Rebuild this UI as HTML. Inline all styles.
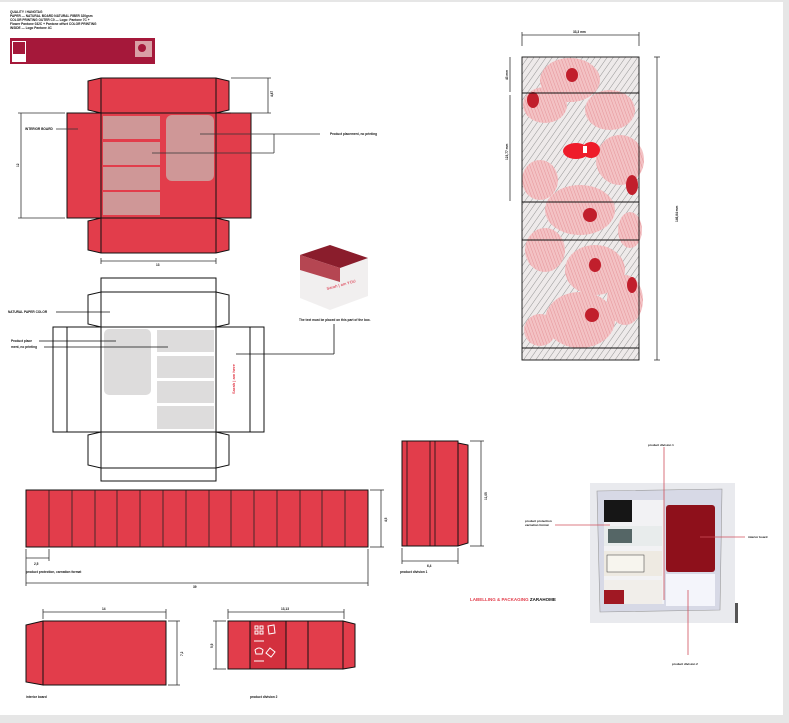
<!DOCTYPE html>
<html><head><meta charset="utf-8"><style>
html,body{margin:0;padding:0;background:#fff}
svg{display:block}
text{font-family:"Liberation Sans",sans-serif;font-weight:bold;fill:#111}
</style></head><body>
<svg width="789" height="723" viewBox="0 0 789 723" xmlns="http://www.w3.org/2000/svg">
<rect x="0" y="0" width="789" height="723" fill="#fff"/>
<rect x="783" y="0" width="6" height="723" fill="#e6e6e6"/>
<rect x="0" y="715" width="789" height="8" fill="#e6e6e6"/>
<rect x="0" y="0" width="789" height="2" fill="#e6e6e6"/>

<!-- header -->
<g font-size="3.2">
<text x="10" y="13">QUALITY / HANGTAG</text>
<text x="10" y="17">PAPER — NATURAL BOARD NATURAL FIBER 320gsm</text>
<text x="10" y="21">COLOR PRINTING OUTER C0 — Logo: Pantone 7C + </text>
<text x="10" y="25">Flower Pantone 032C + Pantone offset COLOR PRINTING</text>
<text x="10" y="29">INSIDE — Logo Pantone 4C</text>
</g>
<rect x="10" y="38" width="145" height="26" fill="#a5183a"/>
<rect x="12" y="41" width="14" height="21" fill="#fff"/>
<rect x="13" y="42" width="12" height="12" fill="#a5183a"/>
<rect x="135" y="41" width="17" height="16" fill="#d9a0a6"/>
<circle cx="142" cy="48" r="4" fill="#a5183a"/>

<!-- top red net -->
<g fill="#e23d4b" stroke="#111" stroke-width="1">
<path d="M88 81 L101 78 L216 78 L229 81 L229 110 L216 113 L101 113 L88 110 Z"/>
<rect x="67" y="113" width="184" height="105"/>
<path d="M88 221 L101 218 L216 218 L229 221 L229 250 L216 253 L101 253 L88 250 Z"/>
</g>
<g stroke="#111" stroke-width="1">
<line x1="101" y1="78" x2="101" y2="253"/><line x1="216" y1="78" x2="216" y2="253"/>
</g>
<g fill="#cf9797">
<rect x="103" y="116" width="57" height="23"/><rect x="103" y="142" width="57" height="23"/>
<rect x="103" y="167" width="57" height="23"/><rect x="103" y="192" width="57" height="23"/>
<rect x="166" y="115" width="48" height="66" rx="6"/>
</g>
<g stroke="#333" stroke-width="0.8" fill="none">
<line x1="231" y1="78" x2="271" y2="78"/><line x1="231" y1="113" x2="271" y2="113"/>
<line x1="268" y1="78" x2="268" y2="113"/>
<line x1="18" y1="113" x2="65" y2="113"/><line x1="18" y1="218" x2="65" y2="218"/>
<line x1="21" y1="113" x2="21" y2="218"/>
<line x1="101" y1="261" x2="216" y2="261"/><line x1="101" y1="258" x2="101" y2="264"/><line x1="216" y1="258" x2="216" y2="264"/>
<line x1="56" y1="129" x2="78" y2="129"/>
<line x1="200" y1="134" x2="320" y2="134"/>
<line x1="152" y1="153" x2="274" y2="153"/><line x1="274" y1="134" x2="274" y2="153"/>
</g>
<g font-size="3.2">
<text x="25" y="130">INTERIOR BOARD</text>
<text x="330" y="135">Product placement, no printing</text>
<text x="156" y="266">13</text>
<text transform="translate(273,97) rotate(-90)">4,87</text>
<text transform="translate(19,167) rotate(-90)">12</text>
</g>

<!-- white net -->
<g fill="none" stroke="#111" stroke-width="1">
<rect x="101" y="278" width="115" height="14"/>
<path d="M88 295 L101 292 L216 292 L229 295 L229 324 L216 327 L101 327 L88 324 Z"/>
<rect x="53" y="327" width="211" height="105"/>
<path d="M88 435 L101 432 L216 432 L229 435 L229 465 L216 468 L101 468 L88 465 Z"/>
<rect x="101" y="468" width="115" height="13"/>
<line x1="67" y1="327" x2="67" y2="432"/><line x1="250" y1="327" x2="250" y2="432"/>
<line x1="101" y1="292" x2="101" y2="468"/><line x1="216" y1="292" x2="216" y2="468"/>
</g>
<g fill="#dddcdc">
<rect x="104" y="329" width="47" height="66" rx="5"/>
<rect x="157" y="330" width="57" height="22"/><rect x="157" y="356" width="57" height="22"/>
<rect x="157" y="381" width="57" height="22"/><rect x="157" y="406" width="57" height="23"/>
</g>
<text transform="translate(235,394) rotate(-90)" font-size="4" style="fill:#e23d4b">Sarah | am here</text>
<g stroke="#111" stroke-width="0.8">
<line x1="56" y1="312" x2="110" y2="312"/>
<line x1="39" y1="341" x2="116" y2="341"/><line x1="44" y1="347" x2="168" y2="347"/>
<line x1="236" y1="354" x2="334" y2="354"/><line x1="334" y1="324" x2="334" y2="354"/>
</g>
<g font-size="3.2">
<text x="8" y="313">NATURAL PAPER COLOR</text>
<text x="11" y="342">Product place</text>
<text x="11" y="348">ment, no printing</text>
<text x="299" y="321">The text must be placed on this part of the box.</text>
</g>
<!-- box photo -->
<path d="M300 255 L330 245 L368 258 L368 296 L330 310 L300 298 Z" fill="#f1efef"/>
<path d="M300 255 L330 245 L368 258 L340 268 Z" fill="#8a1d2c"/>
<path d="M300 255 L340 268 L340 282 L300 270 Z" fill="#b54652"/>
<text x="327" y="290" font-size="4" transform="rotate(-15 327 290)" style="fill:#e06070">Sarah | am YOU</text>

<!-- long strip -->
<rect x="26" y="490" width="342" height="57" fill="#e23d4b" stroke="#111" stroke-width="1"/>
<g stroke="#222" stroke-width="0.8">
<line x1="49" y1="490" x2="49" y2="547"/><line x1="72" y1="490" x2="72" y2="547"/><line x1="95" y1="490" x2="95" y2="547"/>
<line x1="117" y1="490" x2="117" y2="547"/><line x1="140" y1="490" x2="140" y2="547"/><line x1="163" y1="490" x2="163" y2="547"/>
<line x1="186" y1="490" x2="186" y2="547"/><line x1="209" y1="490" x2="209" y2="547"/><line x1="231" y1="490" x2="231" y2="547"/>
<line x1="254" y1="490" x2="254" y2="547"/><line x1="277" y1="490" x2="277" y2="547"/><line x1="300" y1="490" x2="300" y2="547"/>
<line x1="322" y1="490" x2="322" y2="547"/><line x1="345" y1="490" x2="345" y2="547"/>
</g>
<g stroke="#333" stroke-width="0.8">
<line x1="370" y1="490" x2="384" y2="490"/><line x1="370" y1="547" x2="384" y2="547"/><line x1="381" y1="490" x2="381" y2="547"/>
<line x1="26" y1="558" x2="49" y2="558"/><line x1="26" y1="549" x2="26" y2="586"/><line x1="49" y1="549" x2="49" y2="561"/>
<line x1="26" y1="583" x2="368" y2="583"/><line x1="368" y1="549" x2="368" y2="586"/>
</g>
<g font-size="3.2">
<text transform="translate(387,522) rotate(-90)">4,5</text>
<text x="34" y="565">2,5</text>
<text x="26" y="573">product protection, carnation format</text>
<text x="193" y="588">39</text>
</g>

<!-- tall box -->
<rect x="402" y="441" width="56" height="105" fill="#e23d4b" stroke="#111"/>
<path d="M458 443 L468 445 L468 543 L458 546 Z" fill="#e23d4b" stroke="#111"/>
<g stroke="#111" stroke-width="0.8">
<line x1="407" y1="441" x2="407" y2="546"/><line x1="430" y1="441" x2="430" y2="546"/><line x1="435" y1="441" x2="435" y2="546"/>
</g>
<g stroke="#333" stroke-width="0.8">
<line x1="470" y1="441" x2="484" y2="441"/><line x1="470" y1="546" x2="484" y2="546"/><line x1="481" y1="441" x2="481" y2="546"/>
<line x1="402" y1="561" x2="458" y2="561"/><line x1="402" y1="548" x2="402" y2="564"/><line x1="458" y1="548" x2="458" y2="564"/>
</g>
<g font-size="3.2">
<text transform="translate(487,500) rotate(-90)">11,05</text>
<text x="427" y="567">6,4</text>
<text x="400" y="573">product division 1</text>
</g>

<!-- bottom left -->
<path d="M26 625 L43 621 L43 685 L26 682 Z" fill="#e23d4b" stroke="#111"/>
<rect x="43" y="621" width="123" height="64" fill="#e23d4b" stroke="#111"/>
<g stroke="#333" stroke-width="0.8">
<line x1="43" y1="612" x2="166" y2="612"/><line x1="43" y1="609" x2="43" y2="619"/><line x1="166" y1="609" x2="166" y2="619"/>
<line x1="168" y1="621" x2="180" y2="621"/><line x1="168" y1="685" x2="180" y2="685"/><line x1="177" y1="621" x2="177" y2="685"/>
</g>
<g font-size="3.2">
<text x="102" y="610">14</text>
<text transform="translate(183,656) rotate(-90)">7,2</text>
<text x="26" y="698">interior board</text>
</g>

<!-- bottom mid -->
<rect x="228" y="621" width="115" height="48" fill="#e23d4b" stroke="#111"/>
<path d="M343 621 L355 624 L355 667 L343 669 Z" fill="#e23d4b" stroke="#111"/>
<rect x="250" y="621" width="36" height="48" fill="#d3303e" stroke="#111"/>
<line x1="308" y1="621" x2="308" y2="669" stroke="#111"/>
<g fill="none" stroke="#fff" stroke-width="1">
<rect x="255" y="626" width="3" height="3"/><rect x="260" y="626" width="3" height="3"/>
<rect x="255" y="631" width="3" height="3"/><rect x="260" y="631" width="3" height="3"/>
<path d="M268 626 l6 -1 l1 8 l-6 1 z"/>
<line x1="254" y1="641" x2="264" y2="641"/>
<path d="M255 650 q4 -4 8 0 l-1 4 l-6 0 z"/>
<path d="M270 648 l5 4 l-4 5 l-5 -4 z"/>
<line x1="254" y1="661" x2="264" y2="661"/>
</g>
<g stroke="#333" stroke-width="0.8">
<line x1="228" y1="612" x2="344" y2="612"/><line x1="228" y1="609" x2="228" y2="619"/><line x1="344" y1="609" x2="344" y2="619"/>
<line x1="213" y1="621" x2="226" y2="621"/><line x1="213" y1="669" x2="226" y2="669"/><line x1="216" y1="621" x2="216" y2="669"/>
</g>
<g font-size="3.2">
<text x="281" y="610">13,13</text>
<text transform="translate(213,648) rotate(-90)">5,9</text>
<text x="250" y="698">product division 2</text>
</g>

<!-- floral panel -->
<defs>
<pattern id="lv" width="5" height="5" patternUnits="userSpaceOnUse" patternTransform="rotate(35)">
<rect width="5" height="5" fill="#eeeaea"/><line x1="0" y1="0" x2="0" y2="5" stroke="#8a8a8a" stroke-width="0.9"/>
</pattern>
<pattern id="pk" width="3" height="3" patternUnits="userSpaceOnUse" patternTransform="rotate(-20)">
<rect width="3" height="3" fill="#f3c2c4"/><line x1="0" y1="0" x2="0" y2="3" stroke="#e07f87" stroke-width="0.7"/>
</pattern>
</defs>
<rect x="522" y="57" width="117" height="303" fill="url(#lv)"/>
<g fill="url(#pk)">
<ellipse cx="570" cy="80" rx="30" ry="22"/><ellipse cx="610" cy="110" rx="25" ry="20"/>
<ellipse cx="545" cy="105" rx="22" ry="18"/><ellipse cx="620" cy="160" rx="24" ry="25"/>
<ellipse cx="580" cy="210" rx="35" ry="25"/><ellipse cx="540" cy="180" rx="18" ry="20"/>
<ellipse cx="595" cy="270" rx="30" ry="25"/><ellipse cx="545" cy="250" rx="20" ry="22"/>
<ellipse cx="580" cy="320" rx="35" ry="28"/><ellipse cx="625" cy="300" rx="18" ry="25"/>
<ellipse cx="540" cy="330" rx="16" ry="16"/><ellipse cx="630" cy="230" rx="12" ry="18"/>
</g>
<g fill="#c11f2c">
<ellipse cx="572" cy="75" rx="6" ry="7"/><ellipse cx="533" cy="100" rx="6" ry="8"/>
<ellipse cx="590" cy="215" rx="7" ry="7"/><ellipse cx="595" cy="265" rx="6" ry="7"/>
<ellipse cx="592" cy="315" rx="7" ry="7"/><ellipse cx="632" cy="185" rx="6" ry="10"/>
<ellipse cx="632" cy="285" rx="5" ry="8"/>
</g>
<ellipse cx="576" cy="151" rx="13" ry="8" fill="#ee1c2a"/>
<ellipse cx="591" cy="150" rx="9" ry="8" fill="#ee1c2a"/>
<rect x="583" y="146" width="4" height="7" fill="#fff"/>
<g stroke="#111" stroke-width="0.9" fill="none">
<rect x="522" y="57" width="117" height="303"/>
<line x1="522" y1="93" x2="639" y2="93"/><line x1="522" y1="202" x2="639" y2="202"/>
<line x1="522" y1="240" x2="639" y2="240"/><line x1="522" y1="348" x2="639" y2="348"/>
</g>
<g stroke="#333" stroke-width="0.8">
<line x1="522" y1="35" x2="639" y2="35"/><line x1="522" y1="32" x2="522" y2="46"/><line x1="639" y1="32" x2="639" y2="46"/>
<line x1="657" y1="57" x2="657" y2="360"/><line x1="654" y1="57" x2="660" y2="57"/><line x1="654" y1="360" x2="660" y2="360"/>
<line x1="510" y1="57" x2="510" y2="92"/><line x1="510" y1="95" x2="510" y2="201"/>
</g>
<g font-size="3.2">
<text x="573" y="33">33,3 mm</text>
<text transform="translate(678,222) rotate(-90)">146,84 mm</text>
<text transform="translate(508,80) rotate(-90)">43 mm</text>
<text transform="translate(508,160) rotate(-90)">123,77 mm</text>
</g>

<!-- photo -->
<rect x="590" y="483" width="145" height="140" fill="#e9eaee"/>
<path d="M597 491 L722 489 L720 610 L600 612 Z" fill="#d7d9e6" stroke="#999" stroke-width="0.6"/>
<rect x="604" y="500" width="60" height="104" fill="#f2f2f4"/>
<rect x="604" y="500" width="28" height="22" fill="#161616"/>
<rect x="604" y="526" width="58" height="20" fill="#e8ecec"/>
<rect x="608" y="529" width="24" height="14" fill="#566"/>
<rect x="604" y="551" width="58" height="25" fill="#eeeae2"/>
<rect x="607" y="555" width="37" height="17" fill="#f7f5ee" stroke="#333" stroke-width="0.5"/>
<rect x="604" y="580" width="58" height="24" fill="#f1eeea"/>
<rect x="604" y="590" width="20" height="14" fill="#a01823"/>
<rect x="666" y="505" width="49" height="67" rx="3" fill="#8e101b"/>
<rect x="666" y="574" width="49" height="32" fill="#f4f5fb"/>
<rect x="735" y="603" width="3" height="20" fill="#555"/>
<g stroke="#d0505c" stroke-width="0.8">
<line x1="664" y1="447" x2="664" y2="600"/>
<line x1="555" y1="525" x2="610" y2="525"/>
<line x1="700" y1="537" x2="745" y2="537"/>
<line x1="688" y1="590" x2="688" y2="655"/>
</g>
<g font-size="3">
<text x="648" y="446">product division 1</text>
<text x="525" y="522">product protection</text>
<text x="525" y="526">carnation format</text>
<text x="748" y="538">interior board</text>
<text x="672" y="665">product division 2</text>
</g>
<text x="470" y="601" font-size="4.5" style="fill:#e23d4b">LABELLING &amp; PACKAGING <tspan style="fill:#111">ZARAHOME</tspan></text>
</svg>
</body></html>
